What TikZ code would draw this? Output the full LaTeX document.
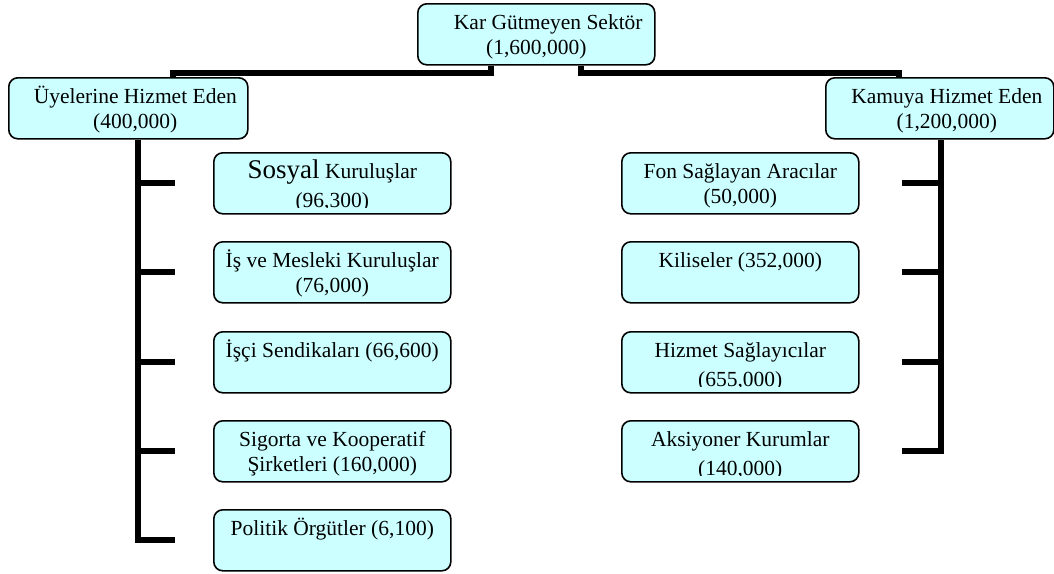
\documentclass[tikz,border=0pt]{standalone}
\usepackage{fontspec}
\setmainfont{Liberation Serif}
\definecolor{acikmavi}{RGB}{204,255,255}
\newcommand{\ust}[2][0pt]{\parbox[t][55pt][t]{228pt}{\centering\advance\leftskip#1\relax\rule{0pt}{23pt}#2}}
\tikzset{kutu/.style={draw,line width=1.6pt,rounded corners=9pt,fill=acikmavi,anchor=north west,minimum width=237pt,minimum height=61pt,inner xsep=0pt,inner ysep=3pt,font=\fontsize{21.5}{25}\selectfont}}
\tikzset{kalin/.style={line width=6pt}}

\begin{document}
\begin{tikzpicture}[x=1pt,y=-1pt]
        \useasboundingbox (0,0) rectangle (1054,573);
        \node[kutu] (kar) at (417,3) {\ust{\hspace*{24pt}Kar Gütmeyen Sektör\\(1,600,000)}};
        \node[kutu,minimum width=239pt] (uye) at (8,77) {\ust[14pt]{Üyelerine Hizmet Eden\\(400,000)}};
        \node[kutu,minimum width=228pt] (kamu) at (825,77) {\ust[14pt]{Kamuya Hizmet Eden\\(1,200,000)}};
        \node[kutu] (sosyal) at (213,152) {};
        \node[kutu] (is) at (213,241) {\ust{İş ve Mesleki Kuruluşlar\\(76,000)}};
        \node[kutu] (isci) at (213,331) {\ust{İşçi Sendikaları (66,600)}};
        \node[kutu] (sigorta) at (213,420) {\ust{Sigorta ve Kooperatif\\Şirketleri (160,000)}};
        \node[kutu] (politik) at (213,509) {\ust{Politik Örgütler (6,100)}};
        \node[kutu] (fon) at (621,152) {\ust{Fon Sağlayan Aracılar\\(50,000)}};
        \node[kutu] (kilise) at (621,241) {\ust{Kiliseler (352,000)}};
        \node[kutu] (hizmet) at (621,331) {};
        \node[kutu] (aksiyon) at (621,420) {};
        \begin{scope}
            \clip (sosyal.north west) rectangle ([yshift=7pt]sosyal.south east);
            \node[kutu,draw=none,fill=none] (sosyal yazi) at (sosyal.north west) {\ust{{\fontsize{27}{27}\selectfont Sosyal} Kuruluşlar\\[4pt](96,300)}};
        \end{scope}
        \begin{scope}
            \clip (hizmet.north west) rectangle ([yshift=7pt]hizmet.south east);
            \node[kutu,draw=none,fill=none] (hizmet yazi) at (hizmet.north west) {\ust{Hizmet Sağlayıcılar\\[4pt](655,000)}};
        \end{scope}
        \begin{scope}
            \clip (aksiyon.north west) rectangle ([yshift=7pt]aksiyon.south east);
            \node[kutu,draw=none,fill=none] (aksiyon yazi) at (aksiyon.north west) {\ust{Aksiyoner Kurumlar\\[4pt](140,000)}};
        \end{scope}
        \draw[kalin] ([xshift=-45pt]kar.south) -- ++(0,7) -| ([xshift=45pt]uye.north);
        \draw[kalin] ([xshift=45pt]kar.south) -- ++(0,7) -| ([xshift=-41pt]kamu.north);
        \draw[kalin] ([xshift=10pt]uye.south) |- ([xshift=-38pt]politik.west);
        \foreach \k in {sosyal,is,isci,sigorta}
            \draw[kalin] ([xshift=10pt]uye.south |- \k.west) -- ([xshift=-38pt]\k.west);
        \draw[kalin] ([xshift=1pt]kamu.south) |- ([xshift=42pt]aksiyon.east);
        \foreach \k in {fon,kilise,hizmet}
            \draw[kalin] ([xshift=1pt]kamu.south |- \k.east) -- ([xshift=42pt]\k.east);
    \end{tikzpicture}
\end{document}
